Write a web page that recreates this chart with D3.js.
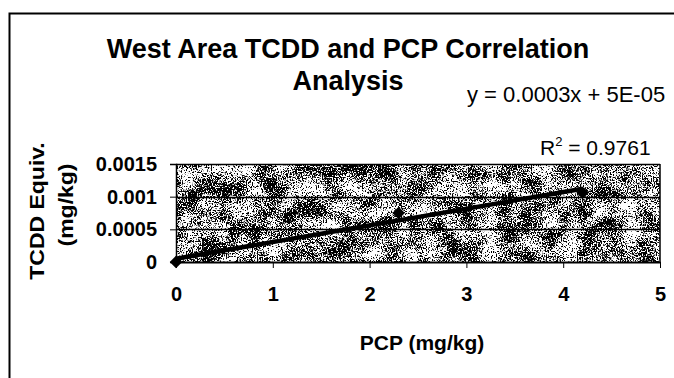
<!DOCTYPE html>
<html>
<head>
<meta charset="utf-8">
<script src="https://cdn.jsdelivr.net/npm/d3@7"></script>
<style>
  body { margin: 0; background: #fff; }
  svg { display: block; font-family: Arial, "Liberation Sans", sans-serif; }
</style>
</head>
<body>
<svg width="674" height="378"></svg>
<script>
// data
const pcp = [0, 2.3, 4.2];              // PCP (mg/kg)
const tcdd = [0, 0.00075, 0.00106];     // TCDD Equiv. (mg/kg)
const xTicks = [0, 1, 2, 3, 4, 5];
const yTicks = [0, 0.0005, 0.001, 0.0015];
const yTickLabels = ['0', '0.0005', '0.001', '0.0015'];
const titleLines = ['West Area TCDD and PCP Correlation', 'Analysis'];
const yTitleLines = ['TCDD Equiv.', '(mg/kg)'];
const xTitle = 'PCP (mg/kg)';
const eqnText = 'y = 0.0003x + 5E-05';
const r2Value = '0.9761';

const svg = d3.select('svg');

// plot area box
const plotL = 176, plotR = 660, plotT = 164, plotB = 262;

const x = d3.scaleLinear()
    .domain([0, 5])
    .range([plotL, plotR]);

const y = d3.scaleLinear()
    .domain([0, 0.0015])
    .range([plotB, plotT]);

// speckled fill for the plot area: fine grain mixed with coarse blotches
const defs = svg.append('defs');
const filt = defs.append('filter')
    .attr('id', 'speckle')
    .attr('color-interpolation-filters', 'sRGB')
    .attr('x', 0).attr('y', 0).attr('width', 1).attr('height', 1);
filt.append('feTurbulence')
    .attr('type', 'fractalNoise')
    .attr('baseFrequency', 0.8)
    .attr('numOctaves', 2)
    .attr('seed', 3)
    .attr('result', 'fine');
filt.append('feColorMatrix')
    .attr('in', 'fine')
    .attr('type', 'matrix')
    .attr('values', '1 0 0 0 0  1 0 0 0 0  1 0 0 0 0  0 0 0 0 1')
    .attr('result', 'fineO');
filt.append('feTurbulence')
    .attr('type', 'fractalNoise')
    .attr('baseFrequency', 0.05)
    .attr('numOctaves', 3)
    .attr('seed', 11)
    .attr('result', 'coarse');
filt.append('feColorMatrix')
    .attr('in', 'coarse')
    .attr('type', 'matrix')
    .attr('values', '1 0 0 0 0  1 0 0 0 0  1 0 0 0 0  0 0 0 0 1')
    .attr('result', 'coarseO');
filt.append('feComposite')
    .attr('in', 'fineO')
    .attr('in2', 'coarseO')
    .attr('operator', 'arithmetic')
    .attr('k1', 0).attr('k2', 0.65).attr('k3', 0.35).attr('k4', 0)
    .attr('result', 'mix');
filt.append('feColorMatrix')
    .attr('in', 'mix')
    .attr('type', 'matrix')
    .attr('values', '0 0 0 0 0  0 0 0 0 0  0 0 0 0 0  -16 0 0 0 8.4');

// outer frame (left and top edges only are visible)
svg.append('path')
    .attr('d', 'M9.5,378V13.5H674')
    .attr('fill', 'none')
    .attr('stroke', '#000')
    .attr('stroke-width', 2);

svg.append('rect')
    .attr('x', plotL).attr('y', plotT)
    .attr('width', plotR - plotL).attr('height', plotB - plotT)
    .attr('fill', '#fff');

svg.append('rect')
    .attr('x', plotL).attr('y', plotT)
    .attr('width', plotR - plotL).attr('height', plotB - plotT)
    .attr('fill', '#000')
    .attr('filter', 'url(#speckle)');

// horizontal gridlines
svg.append('g')
    .selectAll('line')
    .data(yTicks.slice(1))
    .enter()
    .append('line')
    .attr('x1', plotL).attr('x2', plotR)
    .attr('y1', d => Math.round(y(d)) + 0.5)
    .attr('y2', d => Math.round(y(d)) + 0.5)
    .attr('stroke', '#000')
    .attr('stroke-width', 1.5);

// right border
svg.append('line')
    .attr('x1', plotR).attr('x2', plotR)
    .attr('y1', plotT).attr('y2', plotB)
    .attr('stroke', '#000')
    .attr('stroke-width', 1.5);

// y axis
const yAxis = d3.axisLeft(y)
    .tickValues(yTicks)
    .tickSize(6)
    .tickPadding(13)
    .tickFormat((d, i) => yTickLabels[i]);

const gy = svg.append('g')
    .attr('transform', `translate(${plotL},0)`)
    .call(yAxis);
gy.select('.domain').attr('stroke-width', 1.5);
gy.selectAll('text')
    .attr('font-size', 20)
    .attr('font-weight', 'bold')
    .attr('font-family', 'Arial, "Liberation Sans", sans-serif')
    .attr('fill', '#000');

// x axis
const xAxis = d3.axisBottom(x)
    .tickValues(xTicks)
    .tickSize(6)
    .tickSizeOuter(0)
    .tickPadding(19)
    .tickFormat(d3.format('d'));

const gx = svg.append('g')
    .attr('transform', `translate(0,${plotB})`)
    .call(xAxis);
gx.select('.domain').attr('stroke-width', 2);
gx.selectAll('text')
    .attr('font-size', 20)
    .attr('font-weight', 'bold')
    .attr('font-family', 'Arial, "Liberation Sans", sans-serif')
    .attr('fill', '#000');

// least squares trendline from the points
const mx = d3.mean(pcp), my = d3.mean(tcdd);
const slope = d3.sum(pcp, (v, i) => (v - mx) * (tcdd[i] - my)) / d3.sum(pcp, v => (v - mx) * (v - mx));
const icpt = my - slope * mx;
const ext = d3.extent(pcp);

svg.append('line')
    .attr('x1', x(ext[0])).attr('y1', y(icpt + slope * ext[0]))
    .attr('x2', x(ext[1])).attr('y2', y(icpt + slope * ext[1]))
    .attr('stroke', '#000')
    .attr('stroke-width', 4.5);

// diamond markers
svg.append('g')
    .selectAll('path')
    .data(pcp)
    .enter()
    .append('path')
    .attr('d', d3.symbol(d3.symbolDiamond2, 100))
    .attr('transform', (d, i) => `translate(${x(d)},${y(tcdd[i])})`)
    .attr('fill', '#000');

// title
svg.append('g')
    .selectAll('text')
    .data(titleLines)
    .enter()
    .append('text')
    .attr('x', 348)
    .attr('y', (d, i) => 58 + i * 32)
    .attr('text-anchor', 'middle')
    .attr('font-size', 27)
    .attr('font-weight', 'bold')
    .text(d => d);

// trendline equation and R squared
svg.append('text')
    .attr('x', 467).attr('y', 102)
    .attr('font-size', 22)
    .text(eqnText);

const r2 = svg.append('text')
    .attr('x', 540).attr('y', 155)
    .attr('font-size', 21);
r2.append('tspan').text('R');
r2.append('tspan').attr('dy', -9).attr('font-size', 13).text('2');
r2.append('tspan').attr('dy', 9).text(' = ' + r2Value);

// axis titles (rotated, glyphs a little narrow like the original)
svg.append('g')
    .selectAll('text')
    .data(yTitleLines)
    .enter()
    .append('text')
    .attr('transform', (d, i) => `translate(${[44, 73][i]},${[211, 205][i]}) scale(0.85,1) rotate(-90)`)
    .attr('text-anchor', 'middle')
    .attr('font-size', 23)
    .attr('font-weight', 'bold')
    .text(d => d);

svg.append('text')
    .attr('x', 422).attr('y', 350)
    .attr('text-anchor', 'middle')
    .attr('font-size', 21)
    .attr('font-weight', 'bold')
    .text(xTitle);
</script>
</body>
</html>
